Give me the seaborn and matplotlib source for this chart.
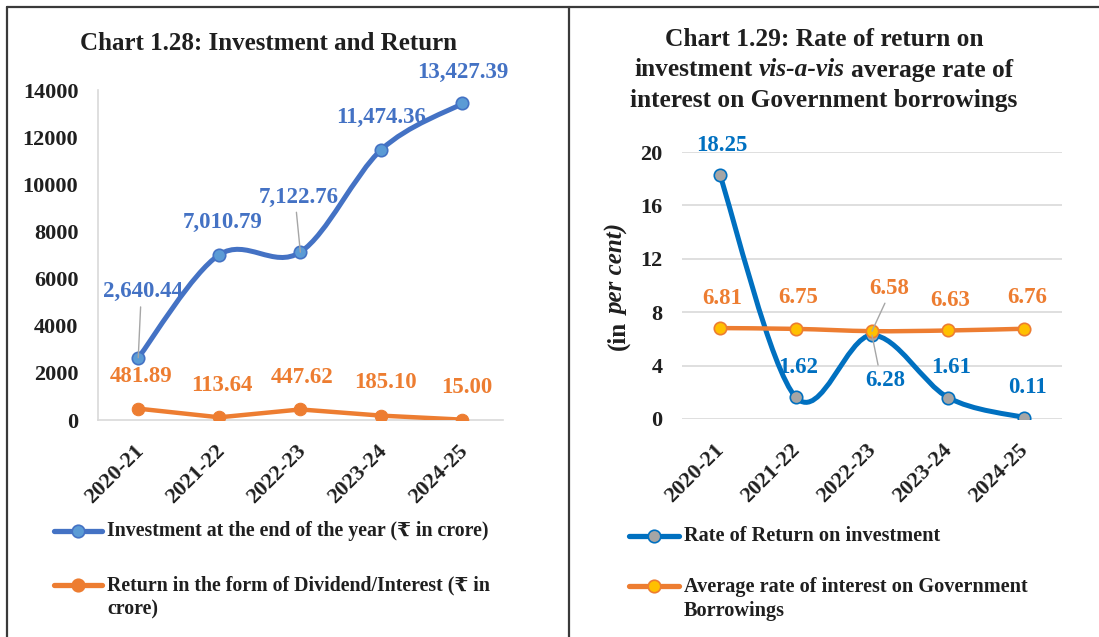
import numpy as np
import matplotlib.pyplot as plt
import seaborn as sns
from matplotlib.path import Path
from matplotlib.patches import PathPatch
from matplotlib.lines import Line2D
from matplotlib.transforms import ScaledTranslation

years = ['2020-21', '2021-22', '2022-23', '2023-24', '2024-25']
investment = [2640.44, 7010.79, 7122.76, 11474.36, 13427.39]
returns = [481.89, 113.64, 447.62, 185.10, 15.00]
rate_of_return = [18.25, 1.62, 6.28, 1.61, 0.11]
avg_interest = [6.81, 6.75, 6.58, 6.63, 6.76]

inv_labels = ['2,640.44', '7,010.79', '7,122.76', '11,474.36', '13,427.39']
ret_labels = ['481.89', '113.64', '447.62', '185.10', '15.00']

W, H = 1099, 637
SERIF = ['Liberation Serif', 'DejaVu Serif', 'DejaVu Sans']
INK = '#1F1F1F'
BLUE, BLUE_LT, BLUE_DK = '#4472C4', '#5B9BD5', '#0070C0'
ORANGE, GOLD, GREY = '#ED7D31', '#FFC000', '#A5A5A5'

sns.set_theme(style='white')
plt.rcParams['font.family'] = SERIF
plt.rcParams['font.weight'] = 'bold'


def fx(px):
    return px / W


def fy(py):
    return 1 - py / H


def smooth_path(xs, ys):
    # Excel-like smoothed line: Catmull-Rom segments as cubic Beziers
    pts = np.column_stack([xs, ys]).astype(float)
    ext = np.vstack([pts[0], pts, pts[-1]])
    verts, codes = [tuple(pts[0])], [Path.MOVETO]
    for i in range(1, len(ext) - 2):
        p0, p1, p2, p3 = ext[i - 1], ext[i], ext[i + 1], ext[i + 2]
        verts += [tuple(p1 + (p2 - p0) / 6), tuple(p2 - (p3 - p1) / 6), tuple(p2)]
        codes += [Path.CURVE4] * 3
    return Path(verts, codes)


def rich_text(fig, x, y, pieces, size, rotation=0):
    # pieces of (text, fontstyle) laid out in one run, centred at pixel (x, y)
    r = fig.canvas.get_renderer()
    arts = [fig.text(0, 0, s, fontsize=size, fontweight='bold', fontstyle=st,
                     color=INK, rotation=rotation, ha='left', va='center',
                     rotation_mode='anchor') for s, st in pieces]
    ext = [a.get_window_extent(r) for a in arts]
    lens = [e.height if rotation else e.width for e in ext]
    probe = fig.text(0, 0, 'x x', fontsize=size, fontweight='bold')
    probe2 = fig.text(0, 0, 'xx', fontsize=size, fontweight='bold')
    sp = probe.get_window_extent(r).width - probe2.get_window_extent(r).width
    probe.remove(); probe2.remove()
    total = sum(lens) + sp * (len(pieces) - 1)
    pos = -total / 2
    for a, l in zip(arts, lens):
        if rotation:
            a.set_position((fx(x), fy(y - pos)))
        else:
            a.set_position((fx(x + pos), fy(y)))
        pos += l + sp


fig = plt.figure(figsize=(W / 100, H / 100), dpi=100)
idx = np.arange(len(years))

# ---------- Chart 1.28 ----------
ax1 = fig.add_axes([fx(97.7), fy(420), fx(503) - fx(97.7), fy(90) - fy(420)])
ax1.add_patch(PathPatch(smooth_path(idx, investment), fill=False, edgecolor=BLUE,
                        lw=3.6, capstyle='round', zorder=3))
sns.scatterplot(x=idx, y=investment, ax=ax1, s=80, color=BLUE_LT, edgecolor=BLUE,
                linewidth=1.2, zorder=4, legend=False)
sns.lineplot(x=idx, y=returns, ax=ax1, color=ORANGE, lw=3.2, marker='o', ms=9,
             markerfacecolor=ORANGE, markeredgecolor=ORANGE, zorder=3)
ax1.set_xlim(-0.5, 4.5)
ax1.set_ylim(0, 14000)
ax1.set_yticks(range(0, 14001, 2000))
ax1.set_xticks(idx)
ax1.set_xticklabels(years)
for sp in ['top', 'right']:
    ax1.spines[sp].set_visible(False)
for sp in ['left', 'bottom']:
    ax1.spines[sp].set_color('#D9D9D9')
    ax1.spines[sp].set_linewidth(1.2)

inv_off = [(5, 66), (3, 32), (-2, 55), (0, 32), (0, 31)]
for i, (v, t, (dx, dy)) in enumerate(zip(investment, inv_labels, inv_off)):
    arrow = None
    if i in (0, 2):
        arrow = dict(arrowstyle='-', color='#A6A6A6', lw=1, shrinkA=1, shrinkB=0,
                     relpos=(0.47, 0))
    ax1.annotate(t, xy=(i, v), xytext=(dx * 0.72, dy * 0.72), textcoords='offset points',
                 ha='center', va='center', fontsize=16.5, fontweight='bold', color=BLUE,
                 arrowprops=arrow, zorder=5)
ret_off = [(3, 32), (3, 32), (2, 32), (4, 33), (4, 32)]
for i, (v, t, (dx, dy)) in enumerate(zip(returns, ret_labels, ret_off)):
    ax1.annotate(t, xy=(i, v), xytext=(dx * 0.72, dy * 0.72), textcoords='offset points',
                 ha='center', va='center', fontsize=16.5, fontweight='bold', color=ORANGE)

# ---------- Chart 1.29 ----------
ax2 = fig.add_axes([fx(682), fy(419), fx(1062) - fx(682), fy(152) - fy(419)])
ax2.add_patch(PathPatch(smooth_path(idx, rate_of_return), fill=False, edgecolor=BLUE_DK,
                        lw=3.6, capstyle='round', zorder=3))
sns.scatterplot(x=idx, y=rate_of_return, ax=ax2, s=80, color=GREY, edgecolor=BLUE_DK,
                linewidth=1.2, zorder=4, legend=False)
ax2.add_patch(PathPatch(smooth_path(idx, avg_interest), fill=False, edgecolor=ORANGE,
                        lw=3.2, capstyle='round', zorder=5))
sns.scatterplot(x=idx, y=avg_interest, ax=ax2, s=80, color=GOLD, edgecolor=ORANGE,
                linewidth=1.2, zorder=6, legend=False)
ax2.set_xlim(-0.5, 4.5)
ax2.set_ylim(0, 20)
ax2.set_yticks(range(0, 21, 4))
ax2.set_xticks(idx)
ax2.set_xticklabels(years)
ax2.yaxis.grid(True, color='#D9D9D9', lw=1.2)
ax2.set_axisbelow(True)
for sp in ax2.spines.values():
    sp.set_visible(False)

ror_off = [(2, 30), (2, 30), (13, -45), (3, 30), (3, 30)]
for i, (v, (dx, dy)) in enumerate(zip(rate_of_return, ror_off)):
    arrow = None
    if i == 2:
        arrow = dict(arrowstyle='-', color='#A6A6A6', lw=1, shrinkA=1, shrinkB=0,
                     relpos=(0.35, 1))
    ax2.annotate(f'{v:.2f}', xy=(i, v), xytext=(dx * 0.72, dy * 0.72),
                 textcoords='offset points', ha='center', va='center', fontsize=16.5,
                 fontweight='bold', color=BLUE_DK, arrowprops=arrow, zorder=7)
avg_off = [(2, 30), (2, 31), (17, 43), (2, 30), (3, 31)]
for i, (v, (dx, dy)) in enumerate(zip(avg_interest, avg_off)):
    arrow = None
    if i == 2:
        arrow = dict(arrowstyle='-', color='#A6A6A6', lw=1, shrinkA=1, shrinkB=0,
                     relpos=(0.45, 0))
    ax2.annotate(f'{v:.2f}', xy=(i, v), xytext=(dx * 0.72, dy * 0.72),
                 textcoords='offset points', ha='center', va='center', fontsize=16.5,
                 fontweight='bold', color=ORANGE, arrowprops=arrow, zorder=7)

# shared tick styling
for ax, nudge in ((ax1, 0.03), (ax2, 0.01)):
    ax.set_xlabel('')
    ax.set_ylabel('')
    ax.tick_params(axis='both', length=0, labelsize=16, labelcolor=INK)
    ax.tick_params(axis='y', pad=14)
    ax.tick_params(axis='x', pad=20)
    shift = ScaledTranslation(nudge, 0, fig.dpi_scale_trans)
    for lab in ax.get_xticklabels():
        lab.set_rotation(45)
        lab.set_ha('right')
        lab.set_va('center')
        lab.set_rotation_mode('anchor')
        lab.set_fontweight('bold')
        lab.set_transform(lab.get_transform() + shift)
    for lab in ax.get_yticklabels():
        lab.set_fontweight('bold')

# titles
fig.text(fx(268), fy(43), 'Chart 1.28: Investment and Return', ha='center', va='center',
         fontsize=18, fontweight='bold', color=INK)
fig.text(fx(824), fy(39), 'Chart 1.29: Rate of return on', ha='center', va='center',
         fontsize=18.3, fontweight='bold', color=INK)
rich_text(fig, 824, 70, [('investment', 'normal'), ('vis-a-vis', 'italic'),
                         ('average rate of', 'normal')], 18.3)
fig.text(fx(824), fy(100), 'interest on Government borrowings', ha='center', va='center',
         fontsize=18.3, fontweight='bold', color=INK)
rich_text(fig, 618, 287, [('(in', 'normal'), ('per cent)', 'italic')], 18, rotation=90)

# legends
def legend_entry(x0, x1, y, line_c, face, edge, lw):
    fig.add_artist(Line2D([fx(x0), fx(x1)], [fy(y), fy(y)], transform=fig.transFigure,
                          color=line_c, lw=lw, solid_capstyle='round'))
    fig.add_artist(Line2D([fx((x0 + x1) / 2)], [fy(y)], transform=fig.transFigure,
                          marker='o', ms=9, markerfacecolor=face, markeredgecolor=edge,
                          mew=1.2, lw=0))

legend_entry(54, 102, 531, BLUE, BLUE_LT, BLUE, 3.8)
fig.text(fx(107), fy(531), 'Investment at the end of the year (₹ in crore)', va='center',
         fontsize=14.3, fontweight='bold', color=INK)
legend_entry(54, 102, 585, ORANGE, ORANGE, ORANGE, 3.8)
fig.text(fx(107), fy(597.5), 'Return in the form of Dividend/Interest (₹ in\ncrore)',
         va='center', fontsize=14.3, fontweight='bold', color=INK, linespacing=1.3)

legend_entry(629, 679, 536, BLUE_DK, GREY, BLUE_DK, 3.8)
fig.text(fx(684), fy(536), 'Rate of Return on investment', va='center',
         fontsize=14.6, fontweight='bold', color=INK)
legend_entry(629, 679, 586, ORANGE, GOLD, ORANGE, 3.8)
fig.text(fx(684), fy(599), 'Average rate of interest on Government\nBorrowings',
         va='center', fontsize=14.6, fontweight='bold', color=INK, linespacing=1.3)

# panel frame
for xs, ys in [([7, W], [7, 7]), ([7, 7], [7, H]), ([569, 569], [7, H])]:
    fig.add_artist(Line2D([fx(v) for v in xs], [fy(v) for v in ys],
                          transform=fig.transFigure, color='#3A3A3A', lw=1.6))

fig.savefig('out.png', dpi=100)
